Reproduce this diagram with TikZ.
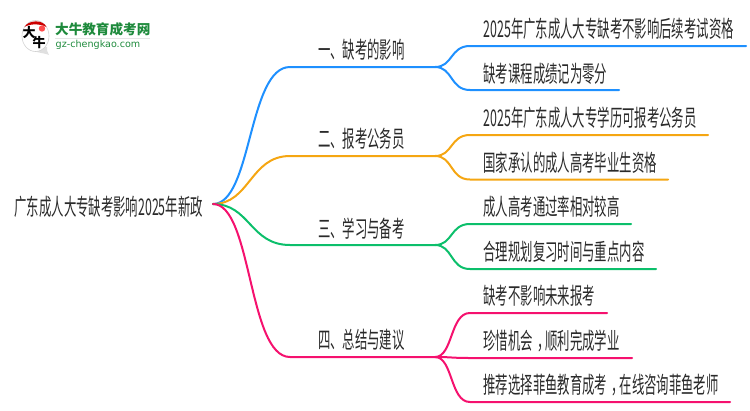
\documentclass[tikz,border=0pt]{standalone}
\usepackage{fontspec}
\setmainfont{Noto Sans CJK SC}
\newfontfamily\latinsans{DejaVu Sans}
\definecolor{cblue}{HTML}{1E90FF}
\definecolor{corange}{HTML}{F5A612}
\definecolor{cgreen}{HTML}{0CBF6B}
\definecolor{cpink}{HTML}{F5116E}
\definecolor{ctext}{HTML}{2A2A2A}
\definecolor{cgreenlogo}{HTML}{1E8A3C}
\tikzset{
  lab/.style={anchor=west,inner sep=0pt,text=ctext,font=\fontsize{23}{23}\selectfont,xscale=.538},
  wire/.style={line width=2pt,line cap=round},
  logomark/.style={inner sep=0pt,font=\bfseries\fontsize{13}{13}\selectfont},
}
\newcommand{\leafwire}[4]{%
  \draw[wire,#1] (#2) .. controls ($(#2)+(18,0)$) and ($(#3)+(-20,0)$) .. (#3) -- (#4);}
\usetikzlibrary{calc}
\begin{document}
\begin{tikzpicture}[x=1pt,y=-1pt]
\useasboundingbox (0,0) rectangle (750,410);
% logo
\fill[black!12] (25,44) .. controls (33,54) and (42,52) .. (49,55) .. controls (47,52) and (47,50) .. (47,47) -- cycle;
\fill[white,draw=black!18,line width=.6pt] (35.5,36) circle (13.5 and 15.5);
\fill[red!80!black] (24.5,27) .. controls (28,20) and (43,19) .. (46.5,27) .. controls (40,23.5) and (30,23.5) .. (24.5,27) -- cycle;
\fill[red!70!white] (42,28.5) circle (3.2);
\node[logomark] (logoa) at (29,33) {大};
\node[logomark] (logob) at (39,43) {牛};
\node[anchor=west,inner sep=0pt,text=cgreenlogo,font=\bfseries\fontsize{13.6}{14}\selectfont] (logot) at (55,29.5) {大牛教育成考网};
\fill[black!10] (55,38) rectangle (150,39);
\node[anchor=west,inner sep=0pt,text=cgreenlogo,font=\latinsans\fontsize{9.6}{10}\selectfont] (logou) at (55.5,44.5) {gz-chengkao.com};
% anchors
\coordinate (R) at (213,204);
\coordinate (B1s) at (290,67);  \coordinate (B1e) at (435,67);
\coordinate (B2s) at (290,156); \coordinate (B2e) at (435,156);
\coordinate (B3s) at (290,245); \coordinate (B3e) at (435,245);
\coordinate (B4s) at (290,357); \coordinate (B4e) at (435,357);
\coordinate (L1a) at (470,46);  \coordinate (L1ae) at (746,46);
\coordinate (L1b) at (470,90);  \coordinate (L1be) at (619,90);
\coordinate (L2a) at (470,135); \coordinate (L2ae) at (708,135);
\coordinate (L2b) at (470,179.5); \coordinate (L2be) at (668,179.5);
\coordinate (L3a) at (470,224); \coordinate (L3ae) at (631,224);
\coordinate (L3b) at (470,269); \coordinate (L3be) at (656,269);
\coordinate (L4a) at (470,313); \coordinate (L4ae) at (607,313);
\coordinate (L4b) at (470,358); \coordinate (L4be) at (632,358);
\coordinate (L4c) at (470,402); \coordinate (L4ce) at (730,402);
% wires
\draw[wire,cblue] (R) .. controls (252,204) and (248,67) .. (B1s) -- (B1e);
\draw[wire,corange] (R) .. controls (250,204) and (250,156) .. (B2s) -- (B2e);
\draw[wire,cgreen] (R) .. controls (250,204) and (250,245) .. (B3s) -- (B3e);
\draw[wire,cpink] (R) .. controls (252,204) and (248,357) .. (B4s) -- (B4e);
\leafwire{cblue}{B1e}{L1a}{L1ae}
\leafwire{cblue}{B1e}{L1b}{L1be}
\leafwire{corange}{B2e}{L2a}{L2ae}
\leafwire{corange}{B2e}{L2b}{L2be}
\leafwire{cgreen}{B3e}{L3a}{L3ae}
\leafwire{cgreen}{B3e}{L3b}{L3be}
\leafwire{cpink}{B4e}{L4a}{L4ae}
\leafwire{cpink}{B4e}{L4b}{L4be}
\leafwire{cpink}{B4e}{L4c}{L4ce}
% labels
\node[lab] (root) at (14.5,207) {广东成人大专缺考影响2025年新政};
\node[lab] (b1) at (318,50) {一、缺考的影响};
\node[lab] (b2) at (318,139) {二、报考公务员};
\node[lab] (b3) at (318,229) {三、学习与备考};
\node[lab] (b4) at (318,340) {四、总结与建议};
\node[lab] (t1a) at (483.5,29) {2025年广东成人大专缺考不影响后续考试资格};
\node[lab] (t1b) at (483.5,73.5) {缺考课程成绩记为零分};
\node[lab] (t2a) at (483.5,117.5) {2025年广东成人大专学历可报考公务员};
\node[lab] (t2b) at (483.5,162.5) {国家承认的成人高考毕业生资格};
\node[lab] (t3a) at (483.5,207) {成人高考通过率相对较高};
\node[lab] (t3b) at (483.5,252) {合理规划复习时间与重点内容};
\node[lab] (t4a) at (483.5,296) {缺考不影响未来报考};
\node[lab] (t4b) at (483.5,341) {珍惜机会\hspace{.33em}，\hspace{-.33em}顺利完成学业};
\node[lab] (t4c) at (483.5,385) {推荐选择菲鱼教育成考\hspace{.33em}，\hspace{-.33em}在线咨询菲鱼老师};
\end{tikzpicture}
\end{document}
